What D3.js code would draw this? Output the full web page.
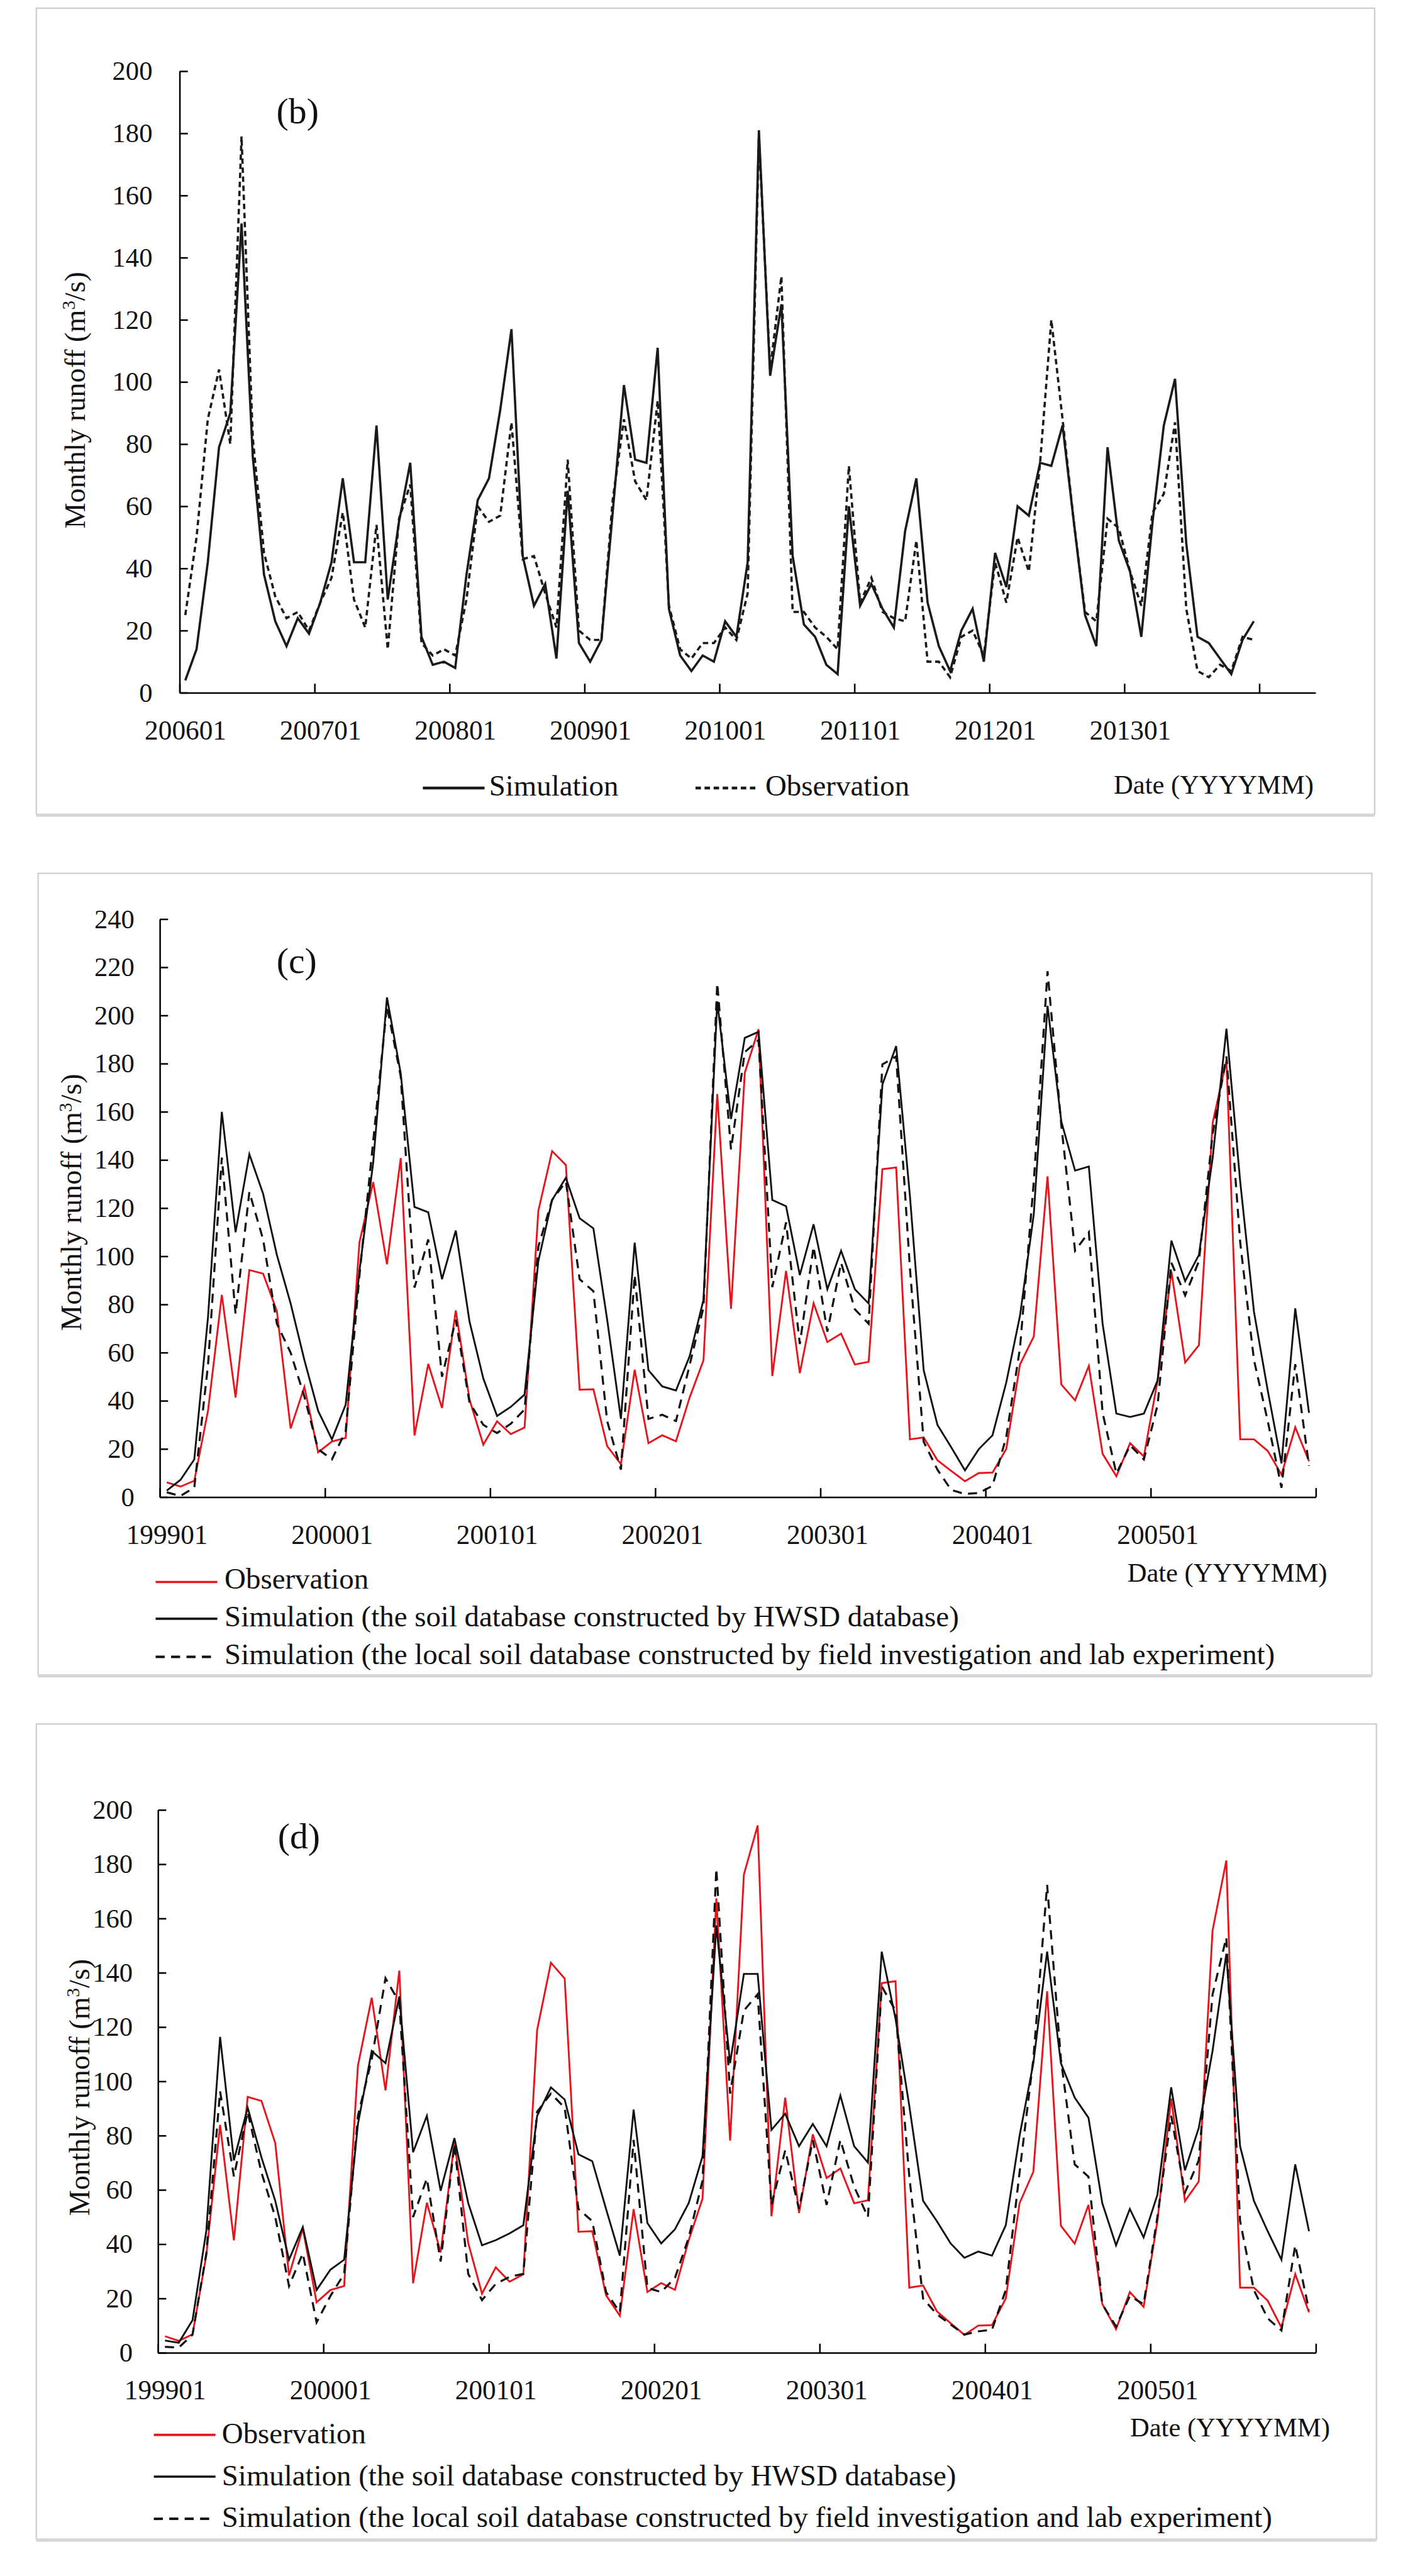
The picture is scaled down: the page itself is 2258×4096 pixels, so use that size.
<!DOCTYPE html>
<html><head><meta charset="utf-8">
<script src="https://cdn.jsdelivr.net/npm/d3@7"></script>
<style>html,body{margin:0;padding:0;background:#fff;} svg{display:block}</style>
</head><body>
<script>
// ---------- DATA ----------
const xLabelsB = ["200601","200701","200801","200901","201001","201101","201201","201301"];
const simulationB = [4,14,42,79,90,151,76,38,23,15,24,19,29,42,69,42,42,86,30,55,74,18,9,10,
  8,38,62,69,91,117,44,28,35,11,65,16,10,17,58,99,75,74,111,27,12,7,12,10,
  23,18,42,181,102,125,44,22,18,9,6,60,28,35,27,21,52,69,29,15,7,20,27,10,
  45,34,60,57,74,73,86,55,25,15,79,49,39,18,55,86,101,48,18,16,11,6,17,23];
const observationB = [25,50,88,104,80,179,82,45,31,24,26,20,29,37,58,30,21,54,14,56,67,16,12,14,
  12,30,60,55,57,87,43,44,32,21,75,20,17,17,62,88,68,62,94,28,14,11,16,16,
  21,17,32,179,104,134,26,26,21,18,14,73,29,37,26,24,23,49,10,10,5,18,20,12,
  42,29,50,39,74,120,88,55,26,23,56,53,39,28,58,64,87,27,7,5,9,7,18,17];
const yTicksB = [0,20,40,60,80,100,120,140,160,180,200];

const xLabelsCD = ["199901","200001","200101","200201","200301","200401","200501"];
const observationCD = [6.1,4.4,6.8,36,84,41.4,94.3,92.8,77.3,28.5,45.8,18.6,
  23.1,24.6,105.8,130.8,96.7,140.8,25.6,55.3,37,77.5,40.5,21.8,
  31.5,26.2,28.9,118.9,143.7,137.9,44.6,44.8,21.2,13.7,52.9,22.4,
  25.7,23.2,41.5,56.8,167.4,78.2,176.2,194.3,50.3,94,51.5,80.5,
  64.4,67.9,55.1,56.2,136.2,136.9,24,24.8,15.3,10.9,6.6,10,
  10.2,20,55.1,66.7,133.2,46.8,40.2,54.5,18,8.7,22.4,16.9,
  48.5,93.7,55.9,63.1,155.5,181.4,24,24,19.2,9.3,29,14.9];
const hwsdC = [2.7,7.2,15.7,75,160,110,142.4,126,100.6,80.4,56.9,35.8,
  24,38.4,94,139,207.5,176,120.5,118.3,90.5,110.7,72.9,49.3,
  33.7,37.5,42.6,98,123.4,132.6,115.8,111.6,73.7,32.5,105.7,52.7,
  46,44.3,58.6,82,205.8,157,190.7,193.2,123.4,120.8,92.2,113.3,
  86.3,102.3,86.3,80.4,171.3,187.3,125,52.7,30,20.7,11.1,19.9,
  25.7,47.6,75.4,117.5,204,156,135.6,137.3,72,34.7,33.3,34.7,
  48.5,106.5,89.7,100.6,141,194.5,131,77,44.3,14,78.4,35];
const localC = [2,0.5,4,55,141,76,126.7,107,72,60,41.7,19.9,
  15.7,27.4,92,147.8,204,174.7,87,107,50,73.7,39.2,30,
  26.6,30.5,36.4,104,123.4,131,90.5,85.5,31.6,11.4,92.2,32.5,
  34.2,31.6,55,78.8,213.4,144.4,184.8,189.8,87.2,114.1,63.6,104,
  68.7,97.3,78,72,179.7,183,95,23,11.4,3,1.3,1.7,
  4.7,25,62,131,218.4,154.5,102.3,110,35,9.8,21.5,15.7,
  38.4,97.3,83.8,98,151,183,105.7,56.9,31.6,3.9,55.2,13];
const yTicksC = [0,20,40,60,80,100,120,140,160,180,200,220,240];

const hwsdD = [4.5,3.7,12,45,116.4,70.9,90.3,72,56,34.3,46.3,23.1,
  30.6,34.3,84.3,111.2,106.7,131.3,73.9,87.3,59.7,79.1,55.2,39.6,
  41.5,44,47,87.3,97.8,93.3,73.1,70.6,53,35.8,89.6,47.8,
  40.3,45.5,55.2,72.4,157.5,106.7,139.6,139.6,82.1,88.1,76.1,84.3,
  76.1,94.8,76.1,70.1,147.8,123.1,91,56,48.5,40.3,35,37.3,
  35.8,47,79.9,106.7,147.8,106.7,94,86.6,55.2,39.6,53,42.5,
  58.2,97.8,67.2,82.8,111.2,147,76.1,56,44.8,34.3,69.4,44.8];
const localD = [2.2,1.9,6.7,36.6,96.3,65,88.8,66.4,50,24.6,36.6,11.2,
  20.9,29.1,87.3,108.2,138,129.1,50,64.2,33.6,76.9,29.1,19.4,
  25.4,28,29.1,88.8,95.5,90.3,53,48.5,22.4,14.9,78.4,23.9,
  22.4,27.6,42.5,63.4,178.4,95.5,126.1,132.1,54.5,74.6,53,78.4,
  54.5,78.4,61.2,50,135,126.1,65,20,14.2,10.4,6.7,7.9,
  8.5,23.1,66.4,108.2,172.4,108.2,69.4,64.9,17.9,9.7,20.9,17.9,
  50,87.3,59,70.9,132,153,48.5,23.1,12.7,8.2,39.6,15.7];
const yTicksD = [0,20,40,60,80,100,120,140,160,180,200];

// ---------- DRAWING ----------
const W = 3130, H = 5678;
const FONT = "'Liberation Serif', 'Times New Roman', serif";
const RED = "#e8141c";
const svg = d3.select("body").append("svg")
  .attr("width", 2258).attr("height", 4096)
  .attr("viewBox", `0 0 ${W} ${H}`)
  .style("font-family", FONT);

function drawPanel(p) {
  const g = svg.append("g");
  // frame
  g.append("rect").attr("x", p.box[0]).attr("y", p.box[1])
    .attr("width", p.box[2] - p.box[0]).attr("height", p.box[3] - p.box[1])
    .attr("fill", "#fff").attr("stroke", "#cccccc").attr("stroke-width", 3);
  g.append("line").attr("x1", p.box[0]).attr("x2", p.box[2])
    .attr("y1", p.box[3] + 2).attr("y2", p.box[3] + 2)
    .attr("stroke", "#d6d6d6").attr("stroke-width", 7);

  const x = d3.scaleLinear().domain([0, p.nCat]).range([p.left, p.right]);
  const y = d3.scaleLinear().domain([0, p.yMax]).range([p.bottom, p.top]);

  // y axis
  const ya = g.append("g").attr("transform", `translate(${p.left},0)`)
    .call(d3.axisLeft(y).tickValues(p.yTicks).tickSizeInner(-18).tickSizeOuter(0).tickPadding(p.yPad));
  ya.select(".domain").attr("stroke", "#000").attr("stroke-width", 3.5);
  ya.selectAll(".tick line").attr("stroke", "#000").attr("stroke-width", 3.5);
  ya.selectAll(".tick text").attr("font-size", 59).attr("font-family", FONT).attr("fill", "#111");

  // x axis: tick marks at category boundaries
  const bounds = d3.range(0, p.nCat + 1, 12).filter(v => v <= p.tickMax);
  const xa = g.append("g").attr("transform", `translate(0,${p.bottom})`)
    .call(d3.axisBottom(x).tickValues(bounds).tickSizeInner(-20).tickSizeOuter(0).tickFormat(""));
  xa.select(".domain").attr("stroke", "#000").attr("stroke-width", 3.5);
  xa.selectAll(".tick line").attr("stroke", "#000").attr("stroke-width", 3.5);
  // labels at category centres
  const centres = p.xLabels.map((d, k) => k * 12 + 0.5);
  const xl = g.append("g").attr("transform", `translate(0,${p.bottom})`)
    .call(d3.axisBottom(x).tickValues(centres).tickSize(0).tickPadding(60)
      .tickFormat((d, k) => p.xLabels[k]));
  xl.select(".domain").remove();
  xl.selectAll(".tick text").attr("font-size", 60).attr("font-family", FONT).attr("fill", "#111");

  // y title
  const yt = g.append("text").attr("transform", `translate(${p.yTitle[0]},${p.yTitle[1]}) rotate(-90)`)
    .attr("text-anchor", "middle").attr("dy", "0.35em").attr("font-size", 64).attr("fill", "#111");
  yt.append("tspan").text("Monthly runoff (m");
  yt.append("tspan").attr("dy", -22).attr("font-size", 40).text("3");
  yt.append("tspan").attr("dy", 22).text("/s)");

  // panel tag
  g.append("text").attr("x", p.tag[0]).attr("y", p.tag[1]).attr("text-anchor", "middle")
    .attr("font-size", 80).attr("fill", "#111").text(p.tagText);

  // series
  const line = d3.line().x((d, i) => x(i + 0.5)).y(d => y(d));
  p.series.forEach(s => {
    g.append("path").datum(s.values).attr("d", line).attr("fill", "none")
      .attr("stroke", s.color).attr("stroke-width", s.width)
      .attr("stroke-dasharray", s.dash || null).attr("stroke-linejoin", "miter");
  });

  // legend
  p.legend.forEach(l => {
    const s = p.series[l.s];
    g.append("line").attr("x1", l.x1).attr("x2", l.x2).attr("y1", l.ly).attr("y2", l.ly)
      .attr("stroke", s.color).attr("stroke-width", s.width + 1).attr("stroke-dasharray", s.dash || null);
    g.append("text").attr("x", l.tx).attr("y", l.ty).attr("font-size", 65).attr("fill", "#111").text(l.text);
  });
  g.append("text").attr("x", p.date[0]).attr("y", p.date[1]).attr("font-size", 59)
    .attr("fill", "#111").text("Date (YYYYMM)");
}

drawPanel({
  box: [80, 18, 3030, 1795], left: 396, right: 2900, top: 157, bottom: 1527,
  nCat: 101, tickMax: 96, yMax: 200, yTicks: yTicksB, yPad: 60, xLabels: xLabelsB,
  yTitle: [164, 882], tag: [656, 272], tagText: "(b)",
  series: [
    {values: simulationB, color: "#1a1a1a", width: 5},
    {values: observationB, color: "#1a1a1a", width: 5, dash: "12,8"}
  ],
  legend: [
    {s: 0, x1: 932, x2: 1068, ly: 1737, tx: 1078, ty: 1753, text: "Simulation"},
    {s: 1, x1: 1533, x2: 1673, ly: 1737, tx: 1687, ty: 1753, text: "Observation"}
  ],
  date: [2455, 1750]
});

drawPanel({
  box: [84, 1925, 3024, 3692], left: 352.4, right: 2900.6, top: 2026, bottom: 3300,
  nCat: 84, tickMax: 84, yMax: 240, yTicks: yTicksC, yPad: 56, xLabels: xLabelsCD,
  yTitle: [157, 2650], tag: [654, 2145], tagText: "(c)",
  series: [
    {values: observationCD, color: RED, width: 4},
    {values: hwsdC, color: "#111", width: 4},
    {values: localC, color: "#111", width: 4.5, dash: "20,14"}
  ],
  legend: [
    {s: 0, x1: 343, x2: 479, ly: 3487, tx: 495, ty: 3502, text: "Observation"},
    {s: 1, x1: 343, x2: 479, ly: 3568, tx: 495, ty: 3585, text: "Simulation (the soil database constructed by HWSD database)"},
    {s: 2, x1: 343, x2: 479, ly: 3652, tx: 495, ty: 3668, text: "Simulation (the local soil database constructed by field investigation and lab experiment)"}
  ],
  date: [2485, 3487]
});

drawPanel({
  box: [80, 3800, 3034, 5597], left: 348.4, right: 2900.6, top: 3989.5, bottom: 5186,
  nCat: 84, tickMax: 84, yMax: 200, yTicks: yTicksD, yPad: 56, xLabels: xLabelsCD,
  yTitle: [174, 4601], tag: [659, 4074], tagText: "(d)",
  series: [
    {values: observationCD, color: RED, width: 4},
    {values: hwsdD, color: "#111", width: 4},
    {values: localD, color: "#111", width: 4.5, dash: "20,14"}
  ],
  legend: [
    {s: 0, x1: 339, x2: 475, ly: 5367, tx: 489, ty: 5385, text: "Observation"},
    {s: 1, x1: 339, x2: 475, ly: 5459, tx: 489, ty: 5478, text: "Simulation (the soil database constructed by HWSD database)"},
    {s: 2, x1: 339, x2: 475, ly: 5552, tx: 489, ty: 5570, text: "Simulation (the local soil database constructed by field investigation and lab experiment)"}
  ],
  date: [2491, 5370]
});
</script>
</body></html>
